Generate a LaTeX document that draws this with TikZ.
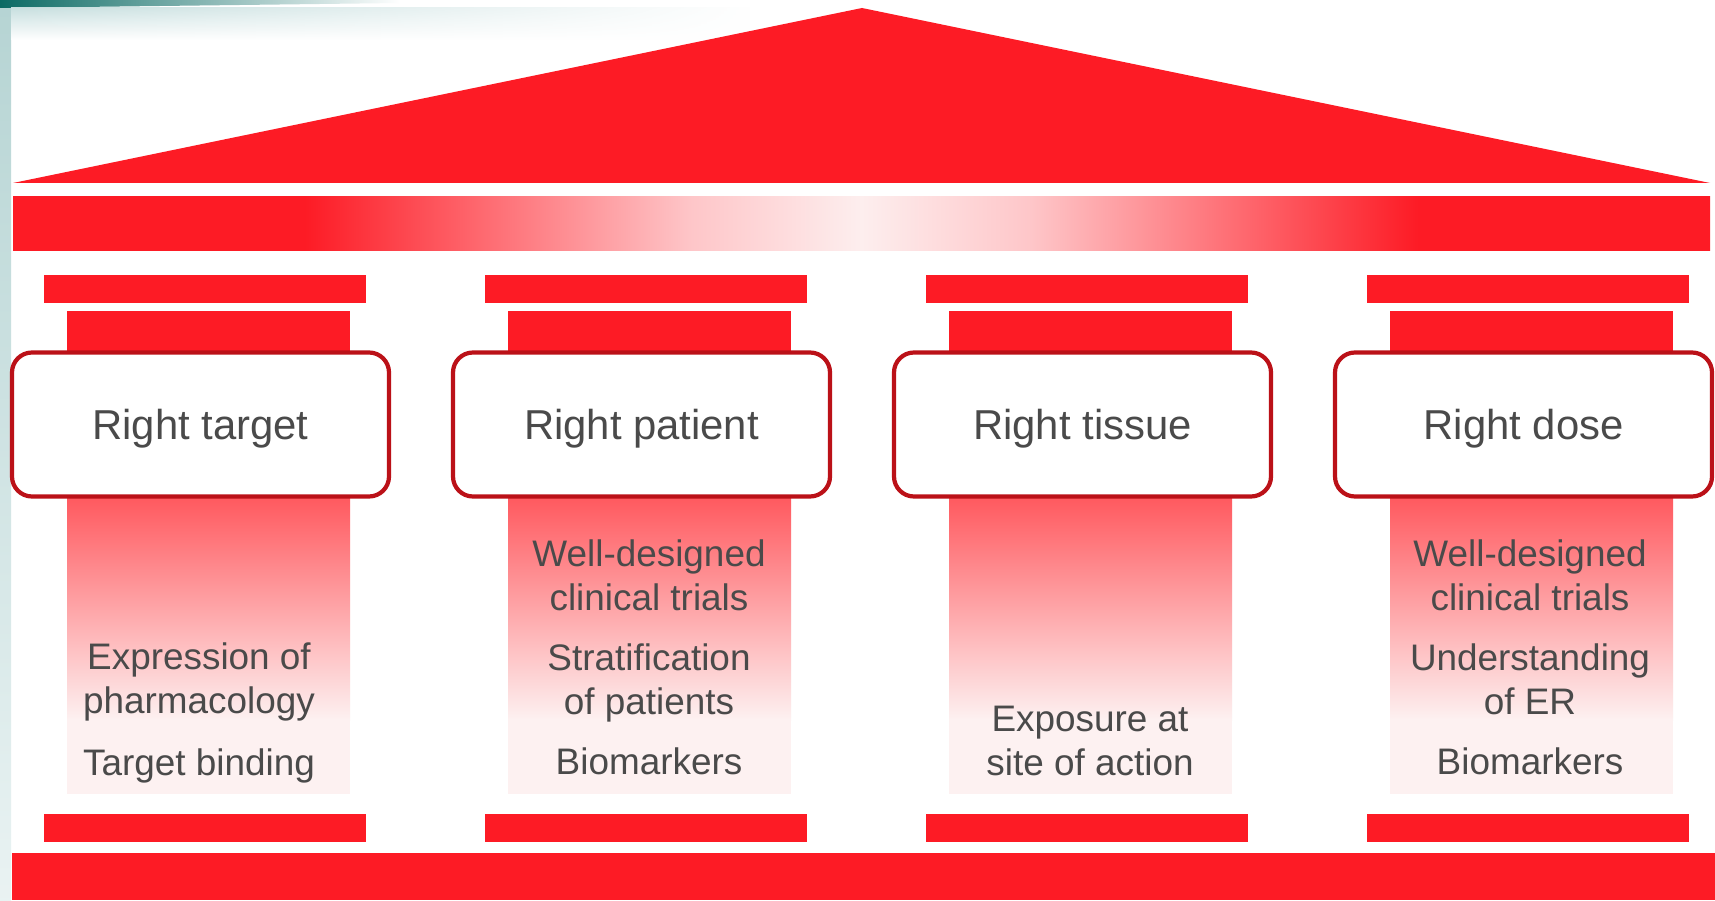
\documentclass[tikz,border=0pt]{standalone}
\usepackage{xcolor}
\usepackage{fontspec}
\setmainfont{Liberation Sans}
\usepackage{tikz}
\usetikzlibrary{fadings}
\definecolor{PillarRed}{HTML}{FD1B25}
\definecolor{RimRed}{HTML}{BB1118}
\definecolor{InkGrey}{HTML}{4A4A4A}
\definecolor{ShaftTop}{HTML}{FF545A}
\definecolor{ShaftLow}{HTML}{FDF1F1}
\definecolor{SlideTeal}{HTML}{0B6A64}
\definecolor{SlideMist}{HTML}{C9E0E0}
\definecolor{GlowPink}{HTML}{FDEEEE}
\pgfdeclarehorizontalshading{beamglow}{100bp}{color(0bp)=(PillarRed); color(33.6bp)=(PillarRed);
  color(45bp)=(PillarRed!25!white); color(50bp)=(GlowPink); color(55bp)=(PillarRed!25!white);
  color(66.4bp)=(PillarRed); color(100bp)=(PillarRed)}
\tikzset{
  titlebox/.style={draw=RimRed,line width=1.2pt,fill=white,rounded corners=0.2cm,
    minimum width=3.77cm,minimum height=1.44cm,inner sep=0pt,text=InkGrey,
    font=\fontsize{11.9}{14}\selectfont,text height=0.30cm,text depth=0pt},
  pillartext/.style={text=InkGrey,font=\fontsize{10.5}{12.5}\selectfont,
    align=center,anchor=base,inner sep=0pt}
}

\begin{document}
\begin{tikzpicture}[x=1cm,y=1cm]
\path[use as bounding box] (0,0) rectangle (17.15,9.00);
\fill[white] (0,0) rectangle (17.15,9.00);
% slide edge
\shade[top color=SlideMist!90!SlideTeal,bottom color=SlideMist!40] (0,0) rectangle (0.11,8.92);
\shade[left color=SlideTeal,right color=white] (0,9.00) -- (4.00,9.00) -- (4.00,8.97) -- (0,8.92) -- cycle;
\shade[top color=SlideMist,bottom color=white,path fading=east] (0.11,8.92) rectangle (7.50,8.60);
% roof and beam
\fill[PillarRed] (0.13,7.17) -- (8.62,8.92) -- (17.10,7.17) -- cycle;
\shade[shading=beamglow] (0.13,6.49) rectangle (17.10,7.03);
% floor
\fill[PillarRed] (0.12,0) rectangle (17.15,0.47);
% pillar 1
\fill[PillarRed] (0.44,5.97) rectangle (3.66,6.25);
\fill[PillarRed] (0.67,5.40) rectangle (3.50,5.89);
\shade[top color=ShaftTop,bottom color=ShaftLow] (0.67,4.10) rectangle (3.50,1.80);
\fill[ShaftLow] (0.67,1.81) rectangle (3.50,1.06);
\fill[PillarRed] (0.44,0.58) rectangle (3.66,0.86);
\node[titlebox] (target) at (2.005,4.755) {Right target};
\node[pillartext] (pharma) at (1.99,1.87) {Expression of\\pharmacology};
\node[pillartext] (binding) at (1.99,1.25) {Target binding};
% pillar 2
\fill[PillarRed] (4.85,5.97) rectangle (8.07,6.25);
\fill[PillarRed] (5.08,5.40) rectangle (7.91,5.89);
\shade[top color=ShaftTop,bottom color=ShaftLow] (5.08,4.10) rectangle (7.91,1.80);
\fill[ShaftLow] (5.08,1.81) rectangle (7.91,1.06);
\fill[PillarRed] (4.85,0.58) rectangle (8.07,0.86);
\node[titlebox] (patient) at (6.415,4.755) {Right patient};
\node[pillartext] (trialsP) at (6.49,2.90) {Well-designed\\clinical trials};
\node[pillartext] (strat) at (6.49,1.86) {Stratification\\of patients};
\node[pillartext] (markersP) at (6.49,1.26) {Biomarkers};
% pillar 3
\fill[PillarRed] (9.26,5.97) rectangle (12.48,6.25);
\fill[PillarRed] (9.49,5.40) rectangle (12.32,5.89);
\shade[top color=ShaftTop,bottom color=ShaftLow] (9.49,4.10) rectangle (12.32,1.80);
\fill[ShaftLow] (9.49,1.81) rectangle (12.32,1.06);
\fill[PillarRed] (9.26,0.58) rectangle (12.48,0.86);
\node[titlebox] (tissue) at (10.825,4.755) {Right tissue};
\node[pillartext] (exposure) at (10.90,1.25) {Exposure at\\site of action};
% pillar 4
\fill[PillarRed] (13.67,5.97) rectangle (16.89,6.25);
\fill[PillarRed] (13.90,5.40) rectangle (16.73,5.89);
\shade[top color=ShaftTop,bottom color=ShaftLow] (13.90,4.10) rectangle (16.73,1.80);
\fill[ShaftLow] (13.90,1.81) rectangle (16.73,1.06);
\fill[PillarRed] (13.67,0.58) rectangle (16.89,0.86);
\node[titlebox] (dose) at (15.235,4.755) {Right dose};
\node[pillartext] (trialsD) at (15.30,2.90) {Well-designed\\clinical trials};
\node[pillartext] (erlink) at (15.30,1.86) {Understanding\\of ER};
\node[pillartext] (markersD) at (15.30,1.26) {Biomarkers};
\end{tikzpicture}
\end{document}
